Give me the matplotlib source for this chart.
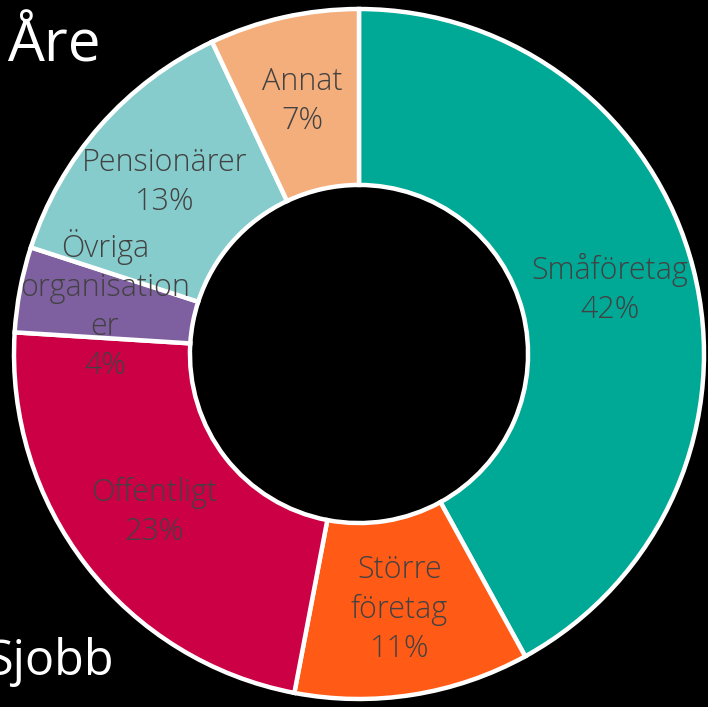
import matplotlib
matplotlib.use("Agg")
import matplotlib.pyplot as plt

# data
categories = ["Småföretag", "Större\nföretag", "Offentligt", "Övriga\norganisation\ner", "Pensionärer", "Annat"]
shares = [42, 11, 23, 4, 13, 7]
colors = ["#00A996", "#FF5A16", "#CC0044", "#7E5FA0", "#86CCCC", "#F4AE7C"]

plt.rcParams['font.family'] = ['Open Sans', 'DejaVu Sans']

fig = plt.figure(figsize=(7.08, 7.07), dpi=100, facecolor="black")
W, H = 708, 707
cx, cy, r = 359, 354, 345
ax = fig.add_axes([(cx - r) / W, (H - cy - r) / H, 2 * r / W, 2 * r / H])
ax.set_facecolor("black")

labels = [f"{c}\n{s}%" for c, s in zip(categories, shares)]
wedges, texts = ax.pie(shares, labels=labels, colors=colors, startangle=90,
                       counterclock=False, radius=1, labeldistance=0.75,
                       wedgeprops=dict(width=0.51, edgecolor="white", linewidth=3.2),
                       textprops=dict(color="#424242", fontsize=22, fontweight="light",
                                      ha="center", va="center", linespacing=1.3))
for t in texts:
    t.set_horizontalalignment("center")
    t.set_verticalalignment("center")

ax.set_xlim(-1, 1)
ax.set_ylim(-1, 1)
ax.set_aspect("equal")
ax.axis("off")

fig.text(7 / W, (H - 62) / H, "Åre", color="white", fontsize=42, ha="left", va="baseline")
fig.text(-13 / W, (H - 675) / H, "Sjobb", color="white", fontsize=35, ha="left", va="baseline")

fig.savefig("out.png", dpi=100, facecolor="black")
